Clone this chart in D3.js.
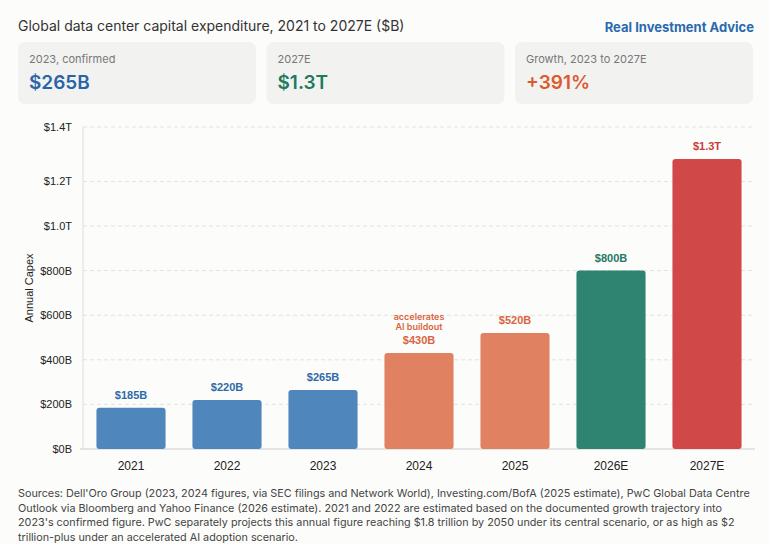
<!DOCTYPE html><html><head><meta charset="utf-8"><script src="https://cdn.jsdelivr.net/npm/d3@7"></script>
<style>body{margin:0;background:#fcfcfb;font-family:Inter,"Noto Sans",sans-serif;}</style></head><body>
<svg id="c" width="769" height="544"></svg>
<script>
const categories=["2021","2022","2023","2024","2025","2026E","2027E"];
const values=[185,220,265,430,520,800,1300];
const labels=["$185B","$220B","$265B","$430B","$520B","$800B","$1.3T"];
const colors=["#4f86bb","#4f86bb","#4f86bb","#e08262","#e08262","#2e8470","#d04848"];
const labelColors=["#2f6aa8","#2f6aa8","#2f6aa8","#d9653f","#d9653f","#237a63","#c83c3c"];
const tickVals=[0,200,400,600,800,1000,1200,1444];
const tickLabels=["$0B","$200B","$400B","$600B","$800B","$1.0T","$1.2T","$1.4T"];
const svg=d3.select("#c");
svg.append("text").attr("x",18).attr("y",31).attr("font-size",14).attr("fill","#333").text("Global data center capital expenditure, 2021 to 2027E ($B)");
svg.append("text").attr("x",754).attr("y",32).attr("text-anchor","end").attr("font-size",13).attr("font-weight",700).attr("fill","#2a6aae").text("Real Investment Advice");
const cards=[["2023, confirmed","$265B","#2a64a8"],["2027E","$1.3T","#1f7a5e"],["Growth, 2023 to 2027E","+391%","#dd5a2e"]];
cards.forEach((c,i)=>{const x=18+i*248.5;
svg.append("rect").attr("x",x).attr("y",42).attr("width",238).attr("height",62).attr("rx",7).attr("fill","#f2f2f1");
svg.append("text").attr("x",x+11).attr("y",63).attr("font-size",11).attr("fill","#777").text(c[0]);
svg.append("text").attr("x",x+11).attr("y",89).attr("font-size",19).attr("font-weight",600).attr("fill",c[2]).text(c[1]);});
const x=d3.scaleBand().domain(categories).range([83,755]).paddingInner(0.28).paddingOuter(0.14);
const y=d3.scaleLinear().domain([0,1444]).range([449,127]);
const g=svg.append("g");
tickVals.forEach((t,i)=>{
 if(i>0)g.append("line").attr("x1",83).attr("x2",755).attr("y1",y(t)).attr("y2",y(t)).attr("stroke","#e2e2e2").attr("stroke-dasharray","4,3");
 g.append("text").attr("x",72).attr("y",y(t)+4).attr("text-anchor","end").attr("font-size",11).attr("font-family","Liberation Sans,Arial").attr("fill","#222").text(tickLabels[i]);
});
g.append("line").attr("x1",83).attr("x2",83).attr("y1",127).attr("y2",449).attr("stroke","#ddd");
g.append("line").attr("x1",80).attr("x2",755).attr("y1",449).attr("y2",449).attr("stroke","#ccc");
svg.append("text").attr("transform","translate(33,288) rotate(-90)").attr("text-anchor","middle").attr("font-size",11).attr("font-family","Liberation Sans,Arial").attr("fill","#222").text("Annual Capex");
categories.forEach((c,i)=>{
 g.append("rect").attr("x",x(c)).attr("y",y(values[i])).attr("width",x.bandwidth()).attr("height",y(0)-y(values[i])).attr("rx",3).attr("fill",colors[i]);
 g.append("text").attr("x",x(c)+x.bandwidth()/2).attr("y",y(values[i])-9).attr("text-anchor","middle").attr("font-size",11).attr("font-weight",700).attr("font-family","Liberation Sans,Arial").attr("fill",labelColors[i]).text(labels[i]);
 g.append("text").attr("x",x(c)+x.bandwidth()/2).attr("y",470).attr("text-anchor","middle").attr("font-size",12).attr("font-family","Liberation Sans,Arial").attr("fill","#222").text(c);
});
const cx=x("2024")+x.bandwidth()/2;
g.append("text").attr("x",cx).attr("y",320).attr("text-anchor","middle").attr("font-size",9).attr("font-weight",600).attr("fill","#d9653f").text("accelerates");
g.append("text").attr("x",cx).attr("y",330).attr("text-anchor","middle").attr("font-size",9).attr("font-weight",600).attr("fill","#d9653f").text("AI buildout");
const foot=["Sources: Dell'Oro Group (2023, 2024 figures, via SEC filings and Network World), Investing.com/BofA (2025 estimate), PwC Global Data Centre","Outlook via Bloomberg and Yahoo Finance (2026 estimate). 2021 and 2022 are estimated based on the documented growth trajectory into","2023's confirmed figure. PwC separately projects this annual figure reaching $1.8 trillion by 2050 under its central scenario, or as high as $2","trillion-plus under an accelerated AI adoption scenario."];
foot.forEach((f,i)=>svg.append("text").attr("x",18).attr("y",497+i*14.5).attr("font-size",10.8).attr("fill","#444").text(f));
</script></body></html>
